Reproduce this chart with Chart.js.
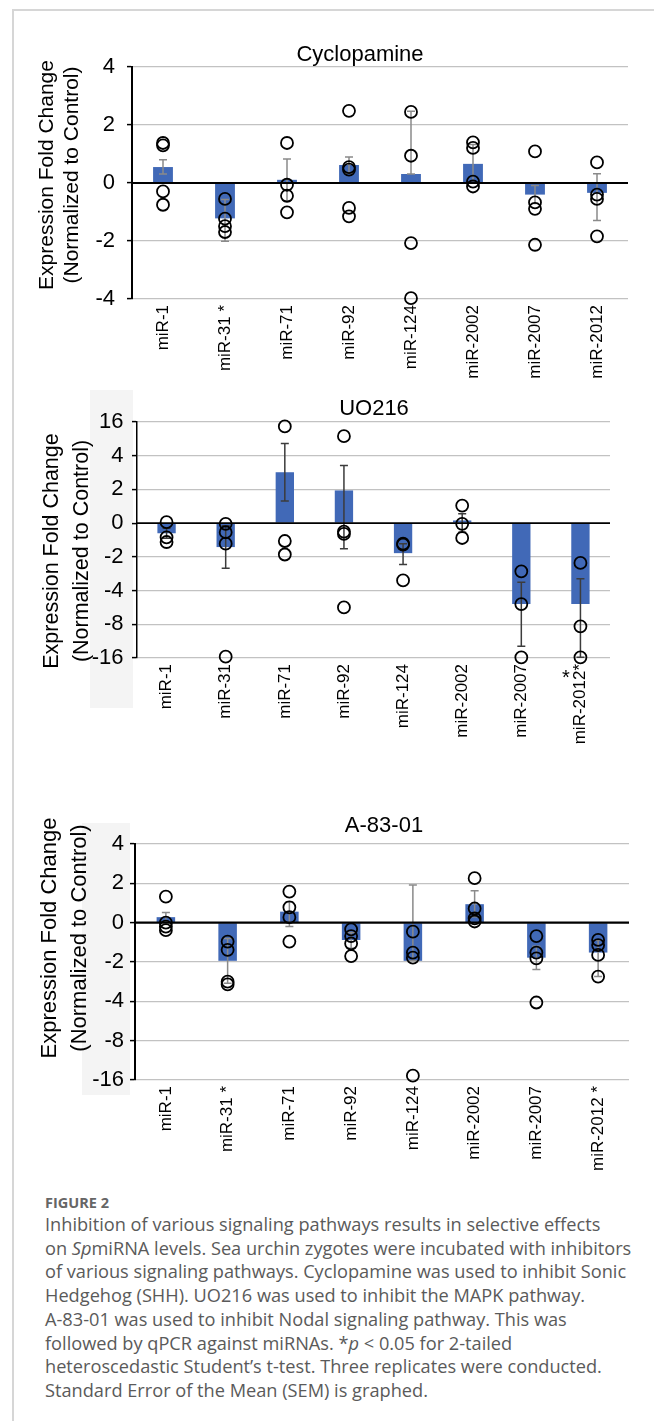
<!DOCTYPE html>
<html>
<head>
<meta charset="utf-8">
<script src="https://cdn.jsdelivr.net/npm/chart.js@4/dist/chart.umd.min.js"></script>
<style>
  html, body { margin: 0; padding: 0; background: #fff; }
  #pagina { position: relative; width: 654px; height: 1421px; overflow: hidden; }
  .marco { position: absolute; left: 12px; top: 9px; width: 700px; height: 1500px;
           border-left: 2px solid #d6d6d6; border-top: 2px solid #d6d6d6; }
  .fondo-eje { position: absolute; background: #f4f4f4; }
  canvas { position: absolute; left: 0; }
  #leyenda { position: absolute; left: 45px; top: 1193px; color: #5a5a5a;
             font-family: 'Open Sans', Lato, sans-serif; font-size: 17px; line-height: 23.7px; white-space: nowrap; }
  #leyenda .fig { font-weight: bold; font-size: 14.5px; line-height: 20px; color: #666; }
</style>
</head>
<body>
<div id="pagina">
  <div class="marco"></div>
  <div class="fondo-eje" style="left:90px; top:390px; width:43px; height:318px;"></div>
  <div class="fondo-eje" style="left:82px; top:823px; width:48px; height:272px;"></div>

  <canvas id="grafico-ciclopamina" width="654" height="390" style="top:0px"></canvas>
  <canvas id="grafico-uo216" width="654" height="390" style="top:390px"></canvas>
  <canvas id="grafico-a8301" width="654" height="410" style="top:780px"></canvas>

  <div id="leyenda">
    <div class="fig">FIGURE 2</div>
    <div>Inhibition of various signaling pathways results in selective effects</div>
    <div><span id="linea-ancha">on <i>Sp</i>miRNA levels. Sea urchin zygotes were incubated with inhibitors</span></div>
    <div>of various signaling pathways. Cyclopamine was used to inhibit Sonic</div>
    <div>Hedgehog (SHH). UO216 was used to inhibit the MAPK pathway.</div>
    <div>A-83-01 was used to inhibit Nodal signaling pathway. This was</div>
    <div>followed by qPCR against miRNAs. *<i>p</i> &lt; 0.05 for 2-tailed</div>
    <div>heteroscedastic Student’s t-test. Three replicates were conducted.</div>
    <div>Standard Error of the Mean (SEM) is graphed.</div>
  </div>
</div>

<script>
// --- Datos ---
// UO216 y A-83-01 usan un eje de pasos iguales (16, 4, 2, 0, -2, -4, -8, -16):
// sus valores están en "pasos" del eje, no en veces de cambio.

const cycloEtiquetas = ['miR-1', 'miR-31 *', 'miR-71', 'miR-92', 'miR-124', 'miR-2002', 'miR-2007', 'miR-2012'];
const cycloMedias = [0.55, -1.22, 0.11, 0.62, 0.31, 0.66, -0.40, -0.34];
const cycloErrBajo = [0.31, -2.01, -0.61, 0.34, 0.31, 0.00, -0.71, -1.29];
const cycloErrAlto = [0.80, -0.57, 0.83, 0.90, 2.47, 1.33, -0.09, 0.32];
const cycloReplicas = [
  [1.38, 1.30, -0.29, -0.75],
  [-0.55, -1.23, -1.49, -1.69],
  [1.38, -0.06, -0.44, -1.01],
  [2.49, 0.55, 0.46, -0.86, -1.15],
  [2.45, 0.94, -2.07, -3.97],
  [1.40, 1.21, 0.05, -0.12],
  [1.09, -0.67, -0.89, -2.13],
  [0.71, -0.40, -0.55, -1.84],
];
const cycloTickValores = [-4, -2, 0, 2, 4];
const cycloTickEtiquetas = ['-4', '-2', '0', '2', '4'];

const uoEtiquetas = ['miR-1', 'miR-31', 'miR-71', 'miR-92', 'miR-124', 'miR-2002', 'miR-2007', 'miR-2012*'];
const uoMedias = [-0.30, -0.71, 1.51, 0.97, -0.89, 0.08, -2.40, -2.40];
const uoErrBajo = [-0.45, -1.34, 0.66, -0.76, -1.23, -0.27, -3.65, -3.98];
const uoErrAlto = [-0.15, -0.08, 2.36, 1.71, -0.61, 0.28, -1.75, -1.65];
const uoReplicas = [
  [0.03, -0.42, -0.56],
  [-0.02, -0.27, -0.61, -3.96],
  [2.87, -0.53, -0.93],
  [2.58, -0.25, -0.32, -2.50],
  [-0.61, -0.64, -1.70],
  [0.52, -0.02, -0.44],
  [-1.43, -2.40, -3.98],
  [-1.18, -3.06, -3.98],
];
const uoTickValores = [-4, -3, -2, -1, 0, 1, 2, 3];
const uoTickEtiquetas = ['-16', '-8', '-4', '-2', '0', '2', '4', '16'];

const a83Etiquetas = ['miR-1', 'miR-31 *', 'miR-71', 'miR-92', 'miR-124', 'miR-2002', 'miR-2007', 'miR-2012 *'];
const a83Medias = [0.14, -0.97, 0.28, -0.44, -0.97, 0.47, -0.89, -0.76];
const a83ErrBajo = [0.02, -1.54, -0.10, -0.65, -0.97, 0.15, -1.19, -1.37];
const a83ErrAlto = [0.26, -0.40, 0.53, -0.25, 0.96, 0.81, -0.60, -0.45];
const a83Replicas = [
  [0.66, 0.00, -0.10, -0.19],
  [-0.48, -0.69, -1.50, -1.57],
  [0.79, 0.39, 0.14, -0.48],
  [-0.17, -0.34, -0.53, -0.85],
  [-0.23, -0.76, -0.89, -3.89],
  [1.13, 0.36, 0.11, 0.03],
  [-0.34, -0.76, -0.91, -2.03],
  [-0.44, -0.57, -0.82, -1.37],
];
const a83TickValores = [-4, -3, -2, -1, 0, 1, 2];
const a83TickEtiquetas = ['-16', '-8', '-4', '-2', '0', '2', '4'];

const tituloEjeY = ['Expression Fold Change', '(Normalized to Control)'];

// --- Estilo ---
const FUENTE = "'Liberation Sans', Arial, sans-serif";
const COLOR_BARRA = '#4169b7';
const COLOR_GRILLA = '#c2c2c2';

// la leyenda ocupa el ancho de la columna: ajusto el tamaño a la línea más larga
(function ajustarLeyenda() {
  const leyenda = document.getElementById('leyenda');
  const ancho = document.getElementById('linea-ancha').getBoundingClientRect().width;
  leyenda.style.fontSize = (17 * 587 / ancho).toFixed(2) + 'px';
})();

function puntosDe(etiquetas, replicas) {
  return replicas.flatMap((vals, i) => vals.map((v) => ({ x: etiquetas[i], y: v })));
}

function crearPanel(idCanvas, cfg) {
  // barras de error + línea de cero, justo después de dibujar las barras
  const pluginErrores = {
    id: 'barrasError',
    afterDatasetDraw(chart, args) {
      if (args.index !== 0) return;
      const { ctx, chartArea } = chart;
      const { x, y } = chart.scales;
      ctx.save();
      ctx.strokeStyle = cfg.colorError;
      ctx.lineWidth = 1.5;
      cfg.errBajo.forEach((bajo, i) => {
        const px = x.getPixelForValue(i);
        const y1 = y.getPixelForValue(bajo);
        const y2 = y.getPixelForValue(cfg.errAlto[i]);
        ctx.beginPath();
        ctx.moveTo(px, y1); ctx.lineTo(px, y2);
        ctx.moveTo(px - 4, y1); ctx.lineTo(px + 4, y1);
        ctx.moveTo(px - 4, y2); ctx.lineTo(px + 4, y2);
        ctx.stroke();
      });
      const y0 = y.getPixelForValue(0);
      ctx.strokeStyle = '#000';
      ctx.lineWidth = cfg.anchoCero;
      ctx.beginPath();
      ctx.moveTo(chartArea.left, y0);
      ctx.lineTo(chartArea.right, y0);
      ctx.stroke();
      ctx.restore();
    },
  };

  // título del panel, título del eje Y (rotado) y asteriscos sueltos
  const pluginTextos = {
    id: 'textosPanel',
    afterDraw(chart) {
      const { ctx } = chart;
      ctx.save();
      ctx.fillStyle = '#000';
      ctx.font = `22px ${FUENTE}`;
      ctx.textAlign = 'center';
      ctx.textBaseline = 'alphabetic';
      ctx.fillText(cfg.titulo, cfg.tituloX, cfg.tituloY);

      ctx.font = `${cfg.tamEjeY}px ${FUENTE}`;
      ctx.textBaseline = 'middle';
      tituloEjeY.forEach((linea, i) => {
        ctx.save();
        ctx.translate(cfg.ejeYX[i], cfg.ejeYCentro);
        ctx.rotate(-Math.PI / 2);
        ctx.fillText(linea, 0, 0);
        ctx.restore();
      });

      (cfg.extras || []).forEach((e) => {
        ctx.font = `20px ${FUENTE}`;
        ctx.fillText(e.texto, e.x, e.y);
      });
      ctx.restore();
    },
  };

  return new Chart(document.getElementById(idCanvas), {
    type: 'bar',
    data: {
      labels: cfg.etiquetas,
      datasets: [
        {
          type: 'bar',
          data: cfg.medias,
          backgroundColor: COLOR_BARRA,
          barPercentage: cfg.anchoBarra,
          categoryPercentage: 1,
          order: 1,
        },
        {
          type: 'scatter',
          data: puntosDe(cfg.etiquetas, cfg.replicas),
          pointRadius: 6,
          borderWidth: 1.8,
          borderColor: '#000',
          backgroundColor: 'rgba(0,0,0,0)',
          clip: false,
          order: 0,
        },
      ],
    },
    options: {
      responsive: false,
      animation: false,
      events: [],
      layout: { padding: cfg.padding },
      plugins: { legend: { display: false }, tooltip: { enabled: false } },
      scales: {
        x: {
          type: 'category',
          grid: { display: false, drawTicks: false },
          border: { display: false },
          ticks: {
            autoSkip: false, minRotation: 90, maxRotation: 90, padding: 6,
            color: '#000', font: { family: FUENTE, size: 17 },
          },
          afterFit: (s) => { s.height = 90; },
        },
        y: {
          type: 'linear',
          min: cfg.tickValores[0],
          max: cfg.tickValores[cfg.tickValores.length - 1],
          afterBuildTicks: (s) => { s.ticks = cfg.tickValores.map((v) => ({ value: v })); },
          ticks: {
            padding: cfg.paddingTicks,
            color: '#000',
            font: { family: FUENTE, size: 22 },
            callback: (v) => cfg.tickEtiquetas[cfg.tickValores.indexOf(v)],
          },
          grid: {
            color: (c) => (c.tick && c.tick.value === 0 ? 'rgba(0,0,0,0)' : COLOR_GRILLA),
            lineWidth: 1.2,
            tickColor: '#000',
            tickWidth: 1.5,
            tickLength: 5,
          },
          border: { display: true, color: '#000', width: cfg.anchoEje },
          afterFit: (s) => { s.width = cfg.anchoEjeY; },
        },
      },
    },
    plugins: [pluginErrores, pluginTextos],
  });
}

crearPanel('grafico-ciclopamina', {
  titulo: 'Cyclopamine', tituloX: 360, tituloY: 61,
  ejeYX: [47.5, 72], ejeYCentro: 175, tamEjeY: 21,
  etiquetas: cycloEtiquetas, medias: cycloMedias, errBajo: cycloErrBajo, errAlto: cycloErrAlto,
  replicas: cycloReplicas, tickValores: cycloTickValores, tickEtiquetas: cycloTickEtiquetas,
  padding: { left: 0, right: 26, top: 67, bottom: 1 },
  anchoEjeY: 132, paddingTicks: 12, anchoBarra: 0.32, anchoEje: 2, anchoCero: 2.2,
  colorError: '#8a8a8a',
});

crearPanel('grafico-uo216', {
  titulo: 'UO216', tituloX: 374, tituloY: 25,
  ejeYX: [52.5, 82], ejeYCentro: 161, tamEjeY: 21.5,
  etiquetas: uoEtiquetas, medias: uoMedias, errBajo: uoErrBajo, errAlto: uoErrAlto,
  replicas: uoReplicas, tickValores: uoTickValores, tickEtiquetas: uoTickEtiquetas,
  padding: { left: 0, right: 44, top: 32, bottom: 32 },
  anchoEjeY: 137, paddingTicks: 8.5, anchoBarra: 0.31, anchoEje: 1.5, anchoCero: 1.6,
  colorError: '#3c3c3c',
  extras: [{ texto: '*', x: 566, y: 288 }],
});

crearPanel('grafico-a8301', {
  titulo: 'A-83-01', tituloX: 384, tituloY: 52,
  ejeYX: [50, 80], ejeYCentro: 158, tamEjeY: 22,
  etiquetas: a83Etiquetas, medias: a83Medias, errBajo: a83ErrBajo, errAlto: a83ErrAlto,
  replicas: a83Replicas, tickValores: a83TickValores, tickEtiquetas: a83TickEtiquetas,
  padding: { left: 0, right: 25, top: 64, bottom: 20 },
  anchoEjeY: 135, paddingTicks: 6, anchoBarra: 0.30, anchoEje: 2, anchoCero: 2.2,
  colorError: '#8a8a8a',
});
</script>
</body>
</html>
